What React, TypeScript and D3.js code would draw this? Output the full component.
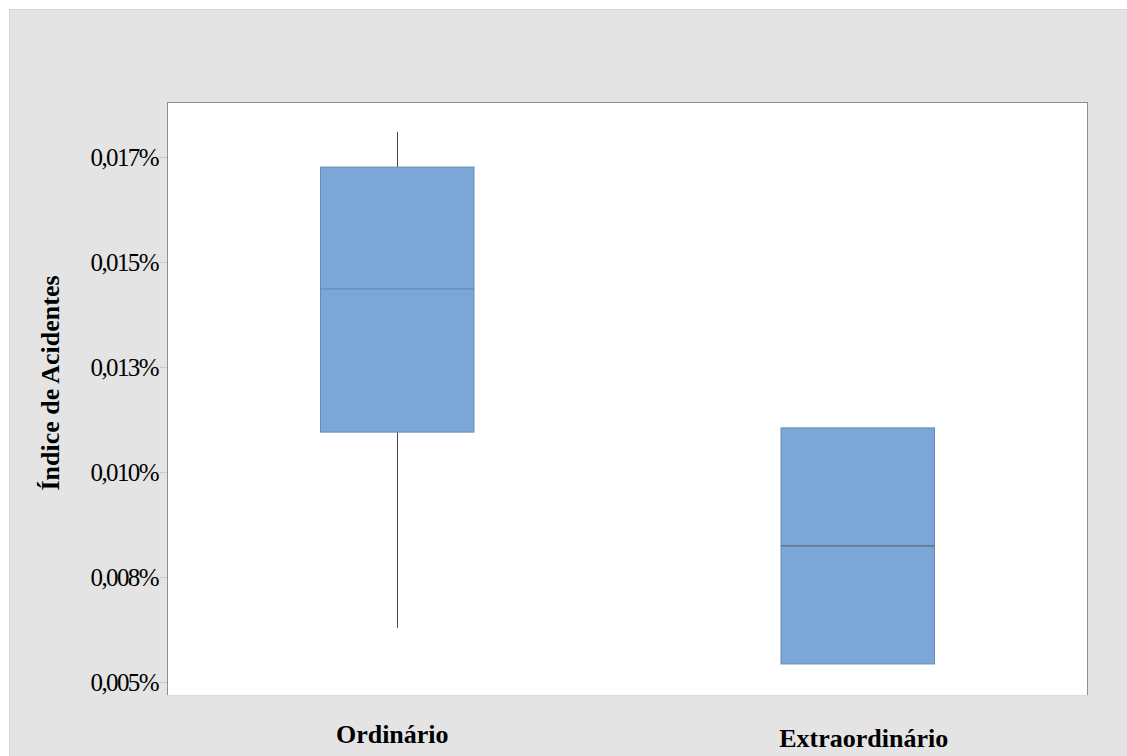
import React from "react";
import * as d3 from "d3";

const categories = ["Ordinário", "Extraordinário"];
const whiskerLow = [0.00629, 0.00543];
const q1 = [0.01095, 0.00543];
const median = [0.01436, 0.00824];
const q3 = [0.01726, 0.01105];
const whiskerHigh = [0.0181, 0.01105];
const tickValues = [0.005, 0.0075, 0.01, 0.0125, 0.015, 0.0175];
const tickLabels = ["0,005%", "0,008%", "0,010%", "0,013%", "0,015%", "0,017%"];

const W = 1127;
const H = 756;
const plot = { left: 167, top: 102, right: 1088, bottom: 696 };

export default function App() {
  const y = d3.scaleLinear().domain([0.005, 0.0175]).range([682, 157]);
  const x = d3.scaleBand<string>().domain(categories).range([plot.left, plot.right]).padding(0);
  const bw = x.bandwidth() / 3;
  const serif = "'Liberation Serif', 'Times New Roman', serif";
  const labelDx = [-5, 6];
  const labelY = [743, 747];

  return (
    <svg width={W} height={H} style={{ position: "fixed", left: 0, top: 0, background: "#fff" }}>
      <rect x={9.5} y={9.5} width={W} height={H} fill="#e4e4e4" stroke="#d6d6d6" />
      <rect x={plot.left} y={plot.top} width={plot.right - plot.left} height={plot.bottom - plot.top} fill="#fff" />
      <line x1={plot.left + 0.5} x2={plot.left + 0.5} y1={plot.top} y2={plot.bottom} stroke="#8e8e8e" />
      <line x1={plot.left} x2={plot.right} y1={plot.top + 0.5} y2={plot.top + 0.5} stroke="#8e8e8e" />
      <line x1={plot.right - 0.5} x2={plot.right - 0.5} y1={plot.top} y2={plot.bottom} stroke="#8e8e8e" />
      <line x1={plot.left} x2={plot.right} y1={plot.bottom - 0.5} y2={plot.bottom - 0.5} stroke="#d9d9d9" />

      {tickValues.map((v, i) => (
        <g key={i}>
          <line x1={160} x2={167} y1={Math.round(y(v)) + 0.5} y2={Math.round(y(v)) + 0.5} stroke="#c8c8c8" />
          <text
            x={158}
            y={y(v)}
            dy="0.36em"
            textAnchor="end"
            style={{ fontFamily: serif }}
            fontSize={25}
            letterSpacing={-1.6}
            fill="#000"
          >
            {tickLabels[i]}
          </text>
        </g>
      ))}

      {categories.map((c, i) => {
        const cx = (x(c) as number) + x.bandwidth() / 2;
        const x0 = cx - bw / 2;
        return (
          <g key={c}>
            <line x1={Math.round(cx) + 0.5} x2={Math.round(cx) + 0.5} y1={y(whiskerHigh[i])} y2={y(q3[i])} stroke="#444" />
            <line x1={Math.round(cx) + 0.5} x2={Math.round(cx) + 0.5} y1={y(q1[i])} y2={y(whiskerLow[i])} stroke="#444" />
            <rect
              x={x0}
              y={y(q3[i])}
              width={bw}
              height={y(q1[i]) - y(q3[i])}
              fill="#7ba7d8"
              stroke="#6a8ab4"
              strokeWidth={1}
            />
            <line
              x1={x0}
              x2={x0 + bw}
              y1={y(median[i])}
              y2={y(median[i])}
              stroke={i === 0 ? "#6684a8" : "#555"}
              strokeWidth={1}
            />
            <text
              x={cx + labelDx[i]}
              y={labelY[i]}
              textAnchor="middle"
              style={{ fontFamily: serif }}
              fontWeight="bold"
              fontSize={26}
              fill="#000"
            >
              {c}
            </text>
          </g>
        );
      })}

      <text
        transform={`translate(59, ${(plot.top + plot.bottom) / 2 - 16}) rotate(-90)`}
        textAnchor="middle"
        style={{ fontFamily: serif }}
        fontWeight="bold"
        fontSize={26}
        fill="#000"
      >
        Índice de Acidentes
      </text>
    </svg>
  );
}
